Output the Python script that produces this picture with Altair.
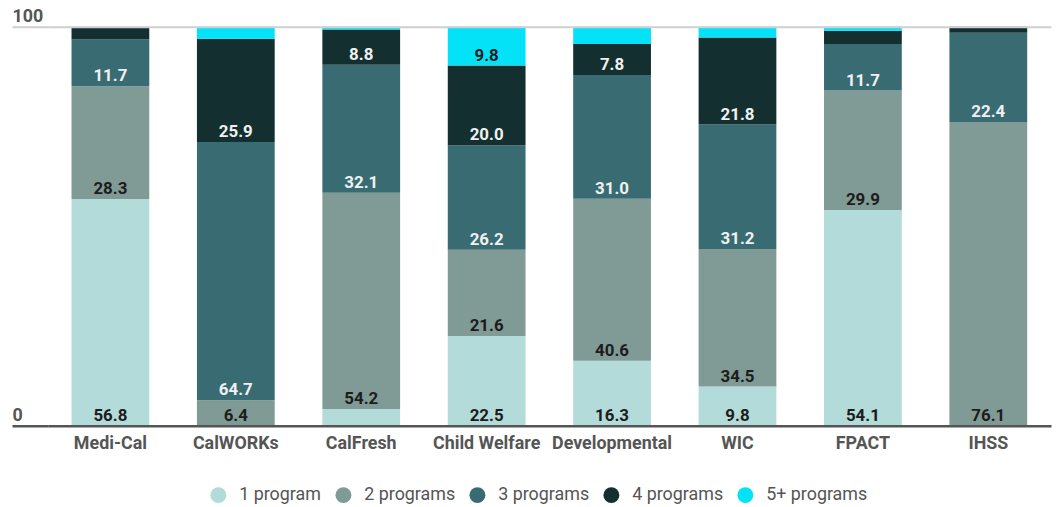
import altair as alt
import pandas as pd

programs = ["Medi-Cal", "CalWORKs", "CalFresh", "Child Welfare", "Developmental", "WIC", "FPACT", "IHSS"]
series = ["1 program", "2 programs", "3 programs", "4 programs", "5+ programs"]
one = [56.8, 0.0, 4.2, 22.5, 16.3, 9.8, 54.1, 0.0]
two = [28.3, 6.4, 54.2, 21.6, 40.6, 34.5, 29.9, 76.1]
three = [11.7, 64.7, 32.1, 26.2, 31.0, 31.2, 11.7, 22.4]
four = [3.0, 25.9, 8.8, 20.0, 7.8, 21.8, 3.3, 1.5]
five = [0.2, 3.0, 0.7, 9.8, 4.3, 2.7, 1.0, 0.0]
colors = ["#b2dbd9", "#809a95", "#386c72", "#132f2f", "#04e2f8"]

rows = []
for s_i, (name, vals) in enumerate(zip(series, [one, two, three, four, five])):
    for p, v in zip(programs, vals):
        rows.append({"program": p, "series": name, "order": s_i + 1, "value": v})
df = pd.DataFrame(rows)

y_axis = alt.Axis(
    values=[0, 100], title=None, grid=True, ticks=True, tickSize=36, domain=False,
    gridColor={"condition": {"test": "datum.value === 0", "value": "#555555"}, "value": "#cfcfcf"},
    gridWidth={"condition": {"test": "datum.value === 0", "value": 2.5}, "value": 2},
    tickColor={"condition": {"test": "datum.value === 0", "value": "#555555"}, "value": "#cfcfcf"},
    tickWidth={"condition": {"test": "datum.value === 0", "value": 2.5}, "value": 2},
    labelAlign="left", labelPadding=0, labelBaseline="alphabetic", labelOffset=-5,
    labelFontSize=18, labelFontWeight="bold", labelColor="#555555", zindex=1,
)
x_axis = alt.Axis(title=None, labelAngle=0, ticks=False, domain=False, labelPadding=9,
                  labelFontSize=18, labelFontWeight="bold", labelColor="#555555")

x_enc = alt.X("program:N", sort=programs, axis=x_axis,
              scale=alt.Scale(paddingInner=0.38, paddingOuter=0.19))
y_scale = alt.Scale(domain=[0, 100], nice=False, clamp=True)

base = alt.Chart(df).transform_stack(
    stack="value", groupby=["program"], as_=["y0", "y1"],
    sort=[alt.SortField("order", order="ascending")],
)

bars = base.mark_bar().encode(
    x=x_enc,
    y=alt.Y("y0:Q", scale=y_scale, axis=y_axis),
    y2="y1:Q",
    color=alt.Color("series:N", sort=series,
                    scale=alt.Scale(domain=series, range=colors),
                    legend=alt.Legend(title=None, orient="none", direction="horizontal",
                                      legendX=163, legendY=463, symbolType="circle",
                                      symbolSize=256, symbolStrokeWidth=0,
                                      labelFontSize=18, labelColor="#555555",
                                      labelOffset=12, columnPadding=13, padding=0)),
)

labels = base.transform_filter("datum.value >= 5").mark_text(
    baseline="alphabetic", align="center", dy=-5, fontSize=17, fontWeight="bold",
).encode(
    x=x_enc,
    y=alt.Y("y0:Q", scale=y_scale, axis=y_axis),
    text=alt.Text("value:Q", format=".1f"),
    color=alt.condition("datum.order == 3 || datum.order == 4",
                        alt.value("#f0f0f0"), alt.value("#1c1c1c")),
)

chart = alt.layer(bars, labels).properties(
    width=1011, height=402,
    padding={"left": 40, "top": 17, "right": 3, "bottom": 80},
    autosize=alt.AutoSizeParams(type="none"),
).configure(font="Roboto").configure_view(stroke=None)

chart.save("out.html", embed_options={"renderer": "svg", "actions": False})
